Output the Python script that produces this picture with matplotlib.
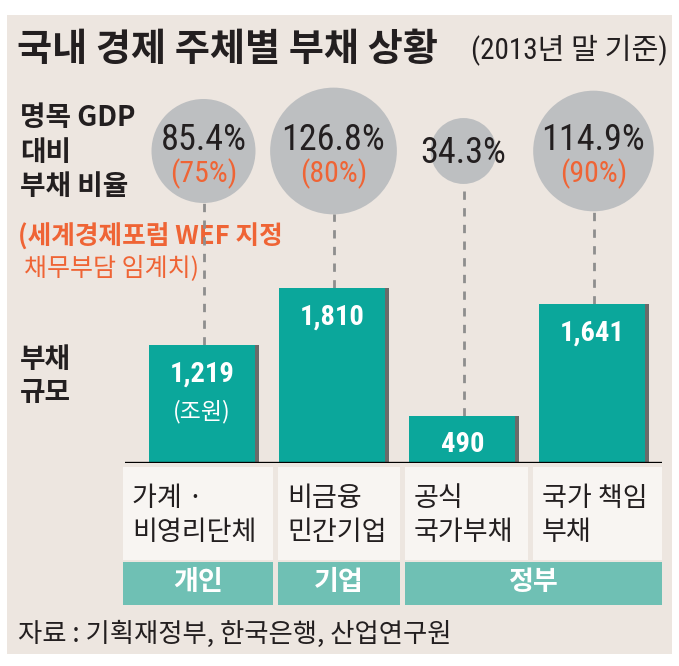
import matplotlib
matplotlib.use("Agg")
import matplotlib.pyplot as plt
from matplotlib import font_manager
from matplotlib.patches import Rectangle, Circle
import numpy as np

# data
items = ["가계 ·\n비영리단체", "비금융\n민간기업", "공식\n국가부채", "국가 책임\n부채"]
debt = [1219, 1810, 490, 1641]            # 부채 규모 (조원)
ratio = [85.4, 126.8, 34.3, 114.9]        # 명목 GDP 대비 부채 비율 (%)
threshold = ["75%", "80%", None, "90%"]   # WEF 채무부담 임계치
groups = ["개인", "기업", "정부"]
group_span = [(0, 0), (1, 1), (2, 3)]

# colours
bg = "#ede6e0"
teal = "#0ba79b"
teal_light = "#6fc0b4"
shadow = "#6a6a6a"
circle_grey = "#bdbfc1"
orange = "#ef6435"
ink = "#231f20"
cell_bg = "#f8f5f2"

# pick fonts
names = {f.name for f in font_manager.fontManager.ttflist}
kr = "Noto Sans CJK KR"
narrow = kr
for cand in ["Liberation Sans Narrow", "DejaVu Sans Condensed", "Roboto Condensed"]:
    if cand in names:
        narrow = cand
        break
plt.rcParams["font.family"] = [kr, "DejaVu Sans"]

W, H = 679, 666
fig = plt.figure(figsize=(W / 100, H / 100), dpi=100)
fig.patch.set_facecolor("white")

# full-figure pixel axes for the layout pieces
ax = fig.add_axes([0, 0, 1, 1])
ax.set_xlim(0, W)
ax.set_ylim(H, 0)
ax.axis("off")
ax.add_patch(Rectangle((7, 15), 665, 639, facecolor=bg, edgecolor="none"))

ax.text(17, 49, "국내 경제 주체별 부채 상황", fontsize=27.5, fontweight="bold",
        color=ink, va="center", ha="left")
ax.text(668, 50, "(2013년 말 기준)", fontsize=21, color=ink, va="center", ha="right",
        family=[narrow, kr])

# left side labels
for y, s in [(118, "명목 GDP"), (153, "대비"), (187, "부채 비율")]:
    ax.text(20, y, s, fontsize=20, fontweight="bold", color=ink, va="center")
ax.text(18, 237, "(세계경제포럼 WEF 지정", fontsize=18.5, fontweight="bold",
        color=orange, va="center")
ax.text(24, 268, "채무부담 임계치)", fontsize=18, color=orange, va="center")
ax.text(20, 360, "부채", fontsize=20, fontweight="bold", color=ink, va="center")
ax.text(20, 393, "규모", fontsize=20, fontweight="bold", color=ink, va="center")

# bar axes: baseline at y=463 px, 0.0966 px per 조원
base_y = 463
px_per_unit = 0.0966
step = 130.0
x0_px = 203.5
left_px, right_px = 125, 662
bax = fig.add_axes([left_px / W, (H - base_y) / H, (right_px - left_px) / W, (base_y - 15) / H])
bax.set_xlim((left_px - x0_px) / step, (right_px - x0_px) / step)
bax.set_ylim(0, (base_y - 15) / px_per_unit)
bax.axis("off")
bax.patch.set_alpha(0)

x = np.arange(len(debt))
bw = 110 / step
bax.bar(x - bw / 2, debt, width=bw, align="edge", color=shadow, zorder=2)
bax.bar(x - bw / 2, debt, width=bw - 4 / step, align="edge", color=teal, zorder=3)
bax.axhline(0, color="black", lw=2.4, zorder=4)

labels = [f"{v:,}" for v in debt]
for i, v in enumerate(debt):
    bax.annotate(labels[i], (x[i], v), xytext=(-1, -29), textcoords="offset pixels",
                 ha="center", va="center", color="white", fontsize=20.5,
                 family=[narrow, kr], fontweight="bold", zorder=5)
bax.annotate("(조원)", (x[0], debt[0]), xytext=(-2, -66), textcoords="offset pixels",
             ha="center", va="center", color="white", fontsize=16.5, zorder=5)

# bubbles: area proportional to ratio
cy = 151
k = 52 / np.sqrt(85.4)
for i, r in enumerate(ratio):
    cx = x0_px + step * i
    rad = k * np.sqrt(r)
    ax.add_patch(Circle((cx, cy), rad, facecolor=circle_grey, edgecolor="none", zorder=2))
    # dashed connector from bubble down to bar top
    top_units = (base_y - (cy + rad)) / px_per_unit
    bax.vlines(x[i], debt[i], top_units, colors="#8e8e8e", lw=2,
               linestyles=(0, (3, 3)), zorder=1)
    if threshold[i]:
        ax.text(cx, cy - 11, f"{r}%", fontsize=26, color=ink, ha="center", va="center",
                family=[narrow, kr], zorder=3)
        ax.text(cx, cy + 23, f"({threshold[i]})", fontsize=21.5, color=orange,
                ha="center", va="center", family=[narrow, kr], zorder=3)
    else:
        ax.text(cx, cy + 2, f"{r}%", fontsize=26, color=ink, ha="center", va="center",
                family=[narrow, kr], zorder=3)

# category cells
cells = [(123, 273), (278, 400), (405, 528), (533, 662)]
for (a, b), s in zip(cells, items):
    ax.add_patch(Rectangle((a, 467), b - a, 93, facecolor=cell_bg, edgecolor="none"))
    l1, l2 = s.split("\n")
    ax.text(a + 9, 499, l1, fontsize=19.5, color=ink, va="center")
    ax.text(a + 9, 532, l2, fontsize=19.5, color=ink, va="center")

for g, (s0, s1) in zip(groups, group_span):
    a, b = cells[s0][0], cells[s1][1]
    ax.add_patch(Rectangle((a, 562), b - a, 43, facecolor=teal_light, edgecolor="none"))
    ax.text((a + b) / 2, 582, g, fontsize=19.5, fontweight="bold", color="white",
            ha="center", va="center")

ax.text(18, 634, "자료 : 기획재정부, 한국은행, 산업연구원", fontsize=19, color=ink, va="center")

fig.savefig("out.png", dpi=100, facecolor="white")
